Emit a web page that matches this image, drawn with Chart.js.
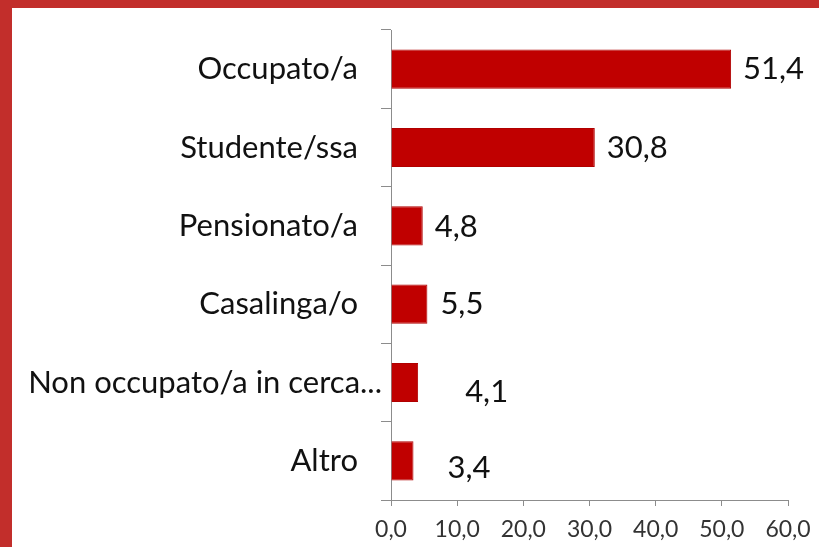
<!DOCTYPE html>
<html>
<head>
<meta charset="utf-8">
<script src="https://cdn.jsdelivr.net/npm/chart.js@4.4.1/dist/chart.umd.min.js"></script>
<style>
  html, body { margin: 0; padding: 0; background: #C22E2B; width: 819px; height: 547px; overflow: hidden; }
  #wrap { position: absolute; left: 12px; top: 8px; width: 807px; height: 539px; background: #ffffff; }
  canvas { display: block; }
</style>
</head>
<body>
<div id="wrap"><canvas id="c" width="807" height="539"></canvas></div>
<script>
const categories = ["Occupato/a", "Studente/ssa", "Pensionato/a", "Casalinga/o", "Non occupato/a in cerca...", "Altro"];
const values = [51.4, 30.8, 4.8, 5.5, 4.1, 3.4];
const xTicks = [0, 10, 20, 30, 40, 50, 60];

// label placement tweaks (style only)
const valueLabelDx = [12, 12, 12, 13, 47, 34];
const valueLabelDy = [0, 0, 1, 0, 9, 7];
const tickLabelShift = [0, 0, 0, 0, 24, 0];

const fmt = v => Number(v).toFixed(1).replace('.', ',');

const valueLabels = {
  id: 'valueLabels',
  afterDatasetsDraw(chart) {
    const ctx = chart.ctx;
    const meta = chart.getDatasetMeta(0);
    ctx.save();
    ctx.font = '31px Lato';
    ctx.fillStyle = '#111111';
    ctx.textAlign = 'left';
    ctx.textBaseline = 'middle';
    meta.data.forEach((bar, i) => {
      ctx.fillText(fmt(values[i]), bar.x + valueLabelDx[i], bar.y + valueLabelDy[i]);
    });
    ctx.restore();
  }
};

const shiftTickLabels = {
  id: 'shiftTickLabels',
  beforeDraw(chart) {
    const scale = chart.scales.y;
    const items = scale.getLabelItems(chart.chartArea);
    items.forEach((it, i) => {
      if (!it._shifted) {
        it.options.translation[0] += tickLabelShift[i] || 0;
        it._shifted = true;
      }
    });
  }
};

new Chart(document.getElementById('c'), {
  type: 'bar',
  data: {
    labels: categories,
    datasets: [{
      data: values,
      backgroundColor: '#C00000',
      borderColor: '#B00000',
      borderWidth: 1,
      barPercentage: 0.5,
      categoryPercentage: 1.0
    }]
  },
  options: {
    indexAxis: 'y',
    responsive: false,
    animation: false,
    layout: { padding: { left: 0, right: 31, top: 22, bottom: 0 } },
    plugins: { legend: { display: false }, tooltip: { enabled: false } },
    scales: {
      y: {
        afterFit: s => { s.width = 379; s.paddingTop = 0; s.paddingBottom = 0; },
        grid: { drawOnChartArea: false, drawTicks: true, tickLength: 10, color: '#8c8c8c', lineWidth: 1 },
        border: { color: '#8c8c8c', width: 1 },
        ticks: { font: { family: 'Lato', size: 31 }, color: '#111111', padding: 23 }
      },
      x: {
        min: 0, max: 60,
        afterFit: s => { s.height = 47; s.paddingLeft = 0; s.paddingRight = 0; },
        afterBuildTicks: s => { s.ticks = xTicks.map(v => ({ value: v })); },
        grid: { drawOnChartArea: false, drawTicks: true, tickLength: 6, color: '#8c8c8c', lineWidth: 1 },
        border: { color: '#8c8c8c', width: 1 },
        ticks: { font: { family: 'Lato', size: 23 }, color: '#333333', padding: 10, callback: v => fmt(v), maxRotation: 0 }
      }
    }
  },
  plugins: [valueLabels, shiftTickLabels]
});
</script>
</body>
</html>
